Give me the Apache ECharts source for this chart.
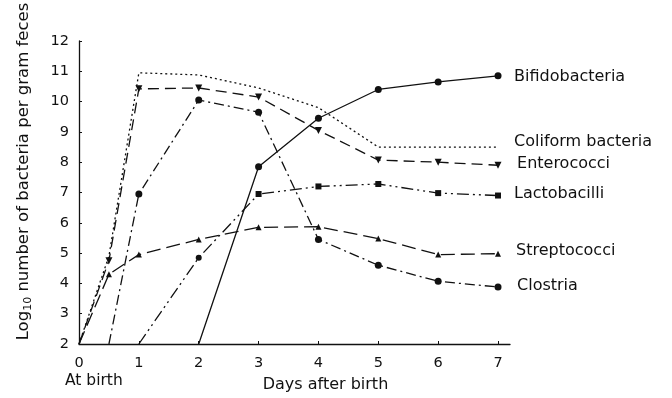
<!DOCTYPE html>
<html>
<head>
<meta charset="utf-8">
<script src="https://cdn.jsdelivr.net/npm/echarts@6/dist/echarts.min.js"></script>
<style>
  html, body { margin: 0; padding: 0; background: #fff; }
  #chart { width: 672px; height: 398px; }
</style>
</head>
<body>
<div id="chart"></div>
<script>
// [day, log10 count]
const bifidobacteria = [[2, 2], [3, 7.85], [4, 9.45], [5, 10.4], [6, 10.65], [7, 10.85]];
const coliform = [[0, 2], [0.5, 4.9], [1, 10.95], [2, 10.88], [3, 10.45], [4, 9.8], [5, 8.5], [6, 8.5], [7, 8.5]];
const enterococci = [[0, 2], [0.5, 4.75], [1, 10.42], [2, 10.45], [3, 10.15], [4, 9.05], [5, 8.07], [6, 8.0], [7, 7.9]];
const lactobacilli = [[1, 2], [2, 4.85], [3, 6.95], [4, 7.2], [5, 7.28], [6, 6.98], [7, 6.9]];
const streptococci = [[0, 2], [0.5, 4.3], [1, 4.95], [2, 5.45], [3, 5.85], [4, 5.87], [5, 5.48], [6, 4.95], [7, 4.98]];
const clostria = [[0.5, 2], [1, 6.95], [2, 10.05], [3, 9.65], [4, 5.45], [5, 4.6], [6, 4.07], [7, 3.88]];

const dayTicks = [0, 1, 2, 3, 4, 5, 6, 7];

const ink = "#111";
const font = "DejaVu Sans";

// points sitting on the baseline have no marker
const toItems = (pts, symbol) =>
  pts.map(([x, y]) => (y === 2 ? { value: [x, y], symbol: "none" } : { value: [x, y], symbol }));

const makeSeries = (name, pts, symbol, size, dash, labelOffset) => ({
  name,
  type: "line",
  data: toItems(pts, symbol),
  symbolSize: size,
  showSymbol: symbol !== "none",
  itemStyle: { color: ink },
  lineStyle: { color: ink, width: 1.3, type: dash },
  emphasis: { disabled: true },
  animation: false,
  endLabel: {
    show: true,
    formatter: name,
    color: ink,
    fontFamily: font,
    fontSize: 16,
    distance: 14,
    offset: labelOffset,
  },
});

const chart = echarts.init(document.getElementById("chart"));

const series = [
  makeSeries("Bifidobacteria", bifidobacteria, "circle", 7, "solid", [2, 1]),
  makeSeries("Coliform bacteria", coliform, "none", 0, [2, 3], [2, -5]),
  makeSeries("Enterococci", enterococci, "triangle", 7, [11, 6], [5, -1]),
  makeSeries("Lactobacilli", lactobacilli, "rect", 6, [12, 4, 2, 4, 2, 4], [2, -2]),
  makeSeries("Streptococci", streptococci, "triangle", 6, [14, 6], [4, -3]),
  makeSeries("Clostria", clostria, "circle", 7, [10, 4, 2, 4], [5, -1]),
];
// Enterococci markers point down
series[2].symbolRotate = 180;
// the day-2 Lactobacilli marker is drawn as a dot
series[3].data[1].symbol = "circle";

chart.setOption({
  backgroundColor: "#fff",
  animation: false,
  grid: { left: 79, right: 162, top: 41, bottom: 52 },
  graphic: [
    {
      type: "text",
      left: 65,
      top: 373,
      style: { text: "At birth", fill: ink, font: "15.5px " + font },
    },
  ],
  xAxis: {
    type: "value",
    min: 0,
    max: 7.2,
    interval: 1,
    name: "Days after birth",
    nameLocation: "middle",
    nameGap: 33,
    nameTextStyle: { color: ink, fontFamily: font, fontSize: 16, padding: [0, 0, 0, 62] },
    axisLine: { lineStyle: { color: ink, width: 1.3 } },
    axisTick: { inside: true, length: 3, customValues: dayTicks, lineStyle: { color: ink } },
    axisLabel: { customValues: dayTicks, color: ink, fontFamily: font, fontSize: 14.5, margin: 12 },
    splitLine: { show: false },
  },
  yAxis: {
    type: "value",
    min: 2,
    max: 12,
    interval: 1,
    name: "{n|Log}{s|10}{n| number of bacteria per gram feces}",
    nameLocation: "middle",
    nameGap: 45,
    nameTextStyle: {
      color: ink,
      padding: [0, 0, 0, 42],
      rich: {
        n: { fontFamily: font, fontSize: 16.5, color: ink },
        s: { fontFamily: font, fontSize: 11, color: ink, padding: [10, 0, 0, 0] },
      },
    },
    axisLine: { show: true, lineStyle: { color: ink, width: 1.3 } },
    axisTick: { show: true, inside: true, length: 3, lineStyle: { color: ink } },
    axisLabel: { color: ink, fontFamily: font, fontSize: 14.5, margin: 10 },
    splitLine: { show: false },
  },
  series,
});
</script>
</body>
</html>
